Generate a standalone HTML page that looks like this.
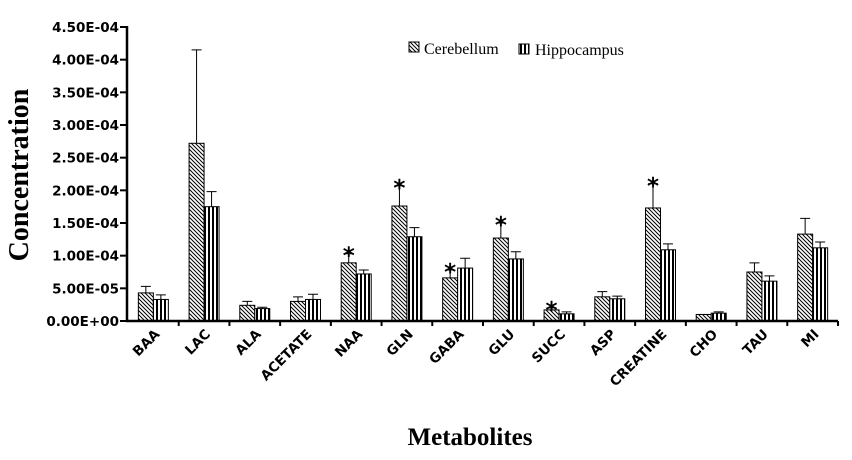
<!DOCTYPE html>
<html><head><meta charset="utf-8"><style>
body{margin:0;background:#fff;}
svg{display:block;}
</style></head><body>
<svg id="chart" width="852" height="460" xmlns="http://www.w3.org/2000/svg">
<defs>
<pattern id="diag" patternUnits="userSpaceOnUse" width="4" height="4">
<rect width="4" height="4" fill="#fff"/>
<path d="M-1,-1 L5,5 M-1,3 L1,5 M3,-1 L5,1" stroke="#000" stroke-width="1"/>
</pattern>
<pattern id="vert" patternUnits="userSpaceOnUse" width="4" height="4">
<rect width="4" height="4" fill="#fff"/>
<rect x="0" y="0" width="2" height="4" fill="#000"/>
</pattern>
</defs>
<g id="plot"></g>
<text transform="translate(28,175) rotate(-90)" text-anchor="middle" font-family="Liberation Serif, serif" font-weight="bold" font-size="28">Concentration</text>
<text x="470" y="445" text-anchor="middle" font-family="Liberation Serif, serif" font-weight="bold" font-size="25">Metabolites</text>
<g>
<rect x="409" y="42" width="10" height="10" fill="url(#diag)" stroke="#000"/>
<text x="424" y="54" font-family="Liberation Serif, serif" font-size="16">Cerebellum</text>
<rect x="519" y="44" width="10" height="10" fill="url(#vert)" stroke="#000"/>
<text x="535" y="55" font-family="Liberation Serif, serif" font-size="16">Hippocampus</text>
</g>
</svg>
<script>
const categories=["BAA","LAC","ALA","ACETATE","NAA","GLN","GABA","GLU","SUCC","ASP","CREATINE","CHO","TAU","MI"];
const cerebellum=[0.43,2.72,0.24,0.30,0.89,1.76,0.66,1.27,0.17,0.37,1.73,0.10,0.75,1.33];
const cerebellumErr=[0.10,1.43,0.06,0.07,0.14,0.31,0.12,0.23,0.03,0.08,0.37,0.0,0.14,0.24];
const hippocampus=[0.33,1.75,0.19,0.33,0.72,1.29,0.81,0.95,0.11,0.34,1.09,0.12,0.61,1.12];
const hippocampusErr=[0.07,0.23,0.02,0.08,0.06,0.14,0.15,0.11,0.03,0.04,0.09,0.02,0.08,0.09];
const significant=[false,false,false,false,true,true,true,true,true,false,true,false,false,false];
const yTicks=[0,0.5,1,1.5,2,2.5,3,3.5,4,4.5];
const yTickLabels=["0.00E+00","5.00E-05","1.00E-04","1.50E-04","2.00E-04","2.50E-04","3.00E-04","3.50E-04","4.00E-04","4.50E-04"];

const NS="http://www.w3.org/2000/svg";
const g=document.getElementById('plot');
const X0=128,X1=838,Y0=321,YT=27,YMAX=4.5;
const bw=(X1-X0)/categories.length;
const y=v=>Y0-(v/YMAX)*(Y0-YT);
const xc=i=>X0+bw*(i+0.5);
function mk(t,a){const e=document.createElementNS(NS,t);for(const k in a)e.setAttribute(k,a[k]);g.appendChild(e);return e;}
const FONT='DejaVu Sans, Liberation Sans, sans-serif';

yTicks.forEach((t,i)=>{
 const l=mk('line',{x1:120,x2:127,y1:y(t),y2:y(t),stroke:'#000','stroke-width':2});
 
 
 const tx=mk('text',{x:119,y:y(t)+5,'text-anchor':'end','font-family':FONT,'font-weight':'bold','font-size':13.5});
 tx.textContent=yTickLabels[i];
 
 
});
const ya=mk('line',{x1:127,x2:127,y1:YT-1,y2:Y0+1,stroke:'#000','stroke-width':2.5});



const BW=15;
function bar(i,v,e,pat,off,name){
 const x=xc(i)+off;
 const r=mk('rect',{x:x,y:y(v),width:BW,height:Y0-y(v),fill:pat,stroke:'#000','stroke-width':1});
 
 
 const cx=x+BW/2;
 const el=mk('path',{d:`M${cx},${y(v)}V${y(v+e)}M${cx-5},${y(v+e)}H${cx+5}`,stroke:'#000','stroke-width':1,fill:'none'});
 
 
}
categories.forEach((c,i)=>{
 bar(i,cerebellum[i],cerebellumErr[i],'url(#diag)',-BW,'bar-cerebellum-'+c.toLowerCase());
 bar(i,hippocampus[i],hippocampusErr[i],'url(#vert)',0,'bar-hippocampus-'+c.toLowerCase());
 if(significant[i]){
  const s=mk('text',{x:xc(i)-BW/2,y:y(cerebellum[i]+cerebellumErr[i])+10,'text-anchor':'middle','font-family':FONT,'font-weight':'bold','font-size':23});
  s.textContent='*';
  
  
 }
 const tk=mk('line',{x1:X0+bw*(i+1),x2:X0+bw*(i+1),y1:Y0,y2:Y0+5,stroke:'#000','stroke-width':2});
 
 
 const lb=mk('text',{transform:`translate(${xc(i)+7},${Y0+14}) rotate(-45)`,'text-anchor':'end','font-family':FONT,'font-weight':'bold','font-size':13.5});
 lb.textContent=c;
 
 
});
const xa=mk('line',{x1:126,x2:X1,y1:Y0,y2:Y0,stroke:'#000','stroke-width':2.5});


</script>
</body></html>
